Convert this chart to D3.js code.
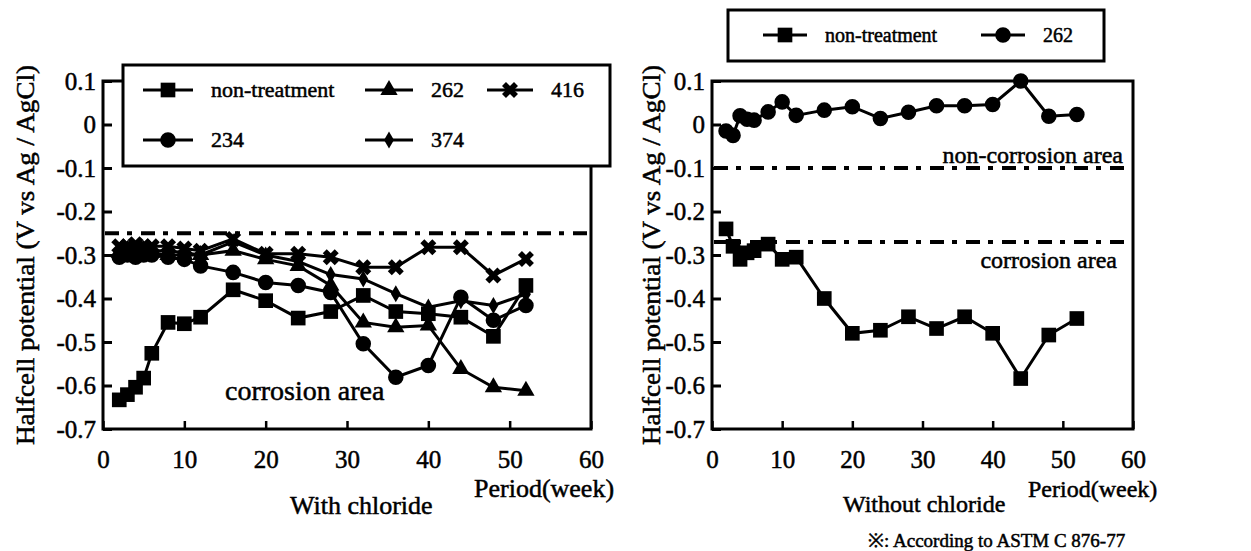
<!DOCTYPE html>
<html>
<head>
<meta charset="utf-8">
<script src="https://cdn.jsdelivr.net/npm/d3@7"></script>
<style>
  body { margin: 0; background: #fff; }
  svg text { font-family: "Liberation Serif", serif; stroke: #000; stroke-width: 0.5px; }
</style>
</head>
<body>
<svg width="1251" height="551"></svg>
<script>
// sampling weeks shared by all series
var weeks = [2, 3, 4, 5, 6, 8, 10, 12, 16, 20, 24, 28, 32, 36, 40, 44, 48, 52];

// with chloride
var withNon = [-0.633, -0.621, -0.604, -0.583, -0.526, -0.455, -0.458, -0.443, -0.38, -0.405, -0.445, -0.43, -0.393, -0.43, -0.435, -0.443, -0.487, -0.37];
var with234 = [-0.305, -0.30, -0.305, -0.30, -0.30, -0.305, -0.31, -0.325, -0.34, -0.363, -0.37, -0.386, -0.504, -0.581, -0.554, -0.397, -0.45, -0.416];
var with262 = [-0.295, -0.30, -0.295, -0.30, -0.295, -0.30, -0.30, -0.30, -0.29, -0.31, -0.325, -0.37, -0.455, -0.466, -0.462, -0.562, -0.604, -0.612];
var with374 = [-0.29, -0.285, -0.29, -0.285, -0.29, -0.29, -0.295, -0.30, -0.27, -0.30, -0.315, -0.345, -0.355, -0.389, -0.42, -0.405, -0.416, -0.39];
var with416 = [-0.28, -0.28, -0.275, -0.28, -0.28, -0.28, -0.285, -0.29, -0.263, -0.297, -0.297, -0.305, -0.328, -0.328, -0.282, -0.282, -0.347, -0.309];

// without chloride
var woNon = [-0.24, -0.28, -0.31, -0.295, -0.29, -0.275, -0.31, -0.305, -0.4, -0.48, -0.473, -0.442, -0.469, -0.442, -0.48, -0.584, -0.484, -0.446];
var wo262 = [-0.015, -0.025, 0.02, 0.012, 0.01, 0.029, 0.052, 0.021, 0.033, 0.041, 0.014, 0.028, 0.043, 0.043, 0.046, 0.1, 0.019, 0.023];

var xTicks = [0, 10, 20, 30, 40, 50, 60];
var yTicks = [0.1, 0, -0.1, -0.2, -0.3, -0.4, -0.5, -0.6, -0.7];
var limitWith = [-0.25];
var limitWithout = [-0.1, -0.27];

var FONT = '"Liberation Serif", serif';
var svg = d3.select('svg');

var shapes = {
  square: { type: d3.symbolSquare, size: 215, rot: 0 },
  circle: { type: d3.symbolCircle, size: 190, rot: 0 },
  triangle: { type: d3.symbolTriangle, size: 130, rot: 0 },
  diamond: { type: d3.symbolDiamond, size: 85, rot: 0 },
  cross: { type: d3.symbolCross, size: 160, rot: 45 }
};

function txt(parent, x, y, size, s) {
  return parent.append('text').attr('x', x).attr('y', y)
    .attr('font-size', size).attr('font-family', FONT).text(s);
}

function drawPanel(x0, x1, fs) {
  var x = d3.scaleLinear().domain([0, 60]).range([x0, x1]);
  var y = d3.scaleLinear().domain([-0.7, 0.1]).range([429, 81]);
  var g = svg.append('g');

  g.append('rect')
    .attr('x', x0).attr('y', y(0.1))
    .attr('width', x1 - x0).attr('height', y(-0.7) - y(0.1))
    .attr('fill', 'none').attr('stroke', '#000').attr('stroke-width', 3);

  var ax = g.append('g').attr('transform', 'translate(0,' + y(-0.7) + ')')
    .call(d3.axisBottom(x).tickValues(xTicks).tickSize(-8).tickSizeOuter(0).tickPadding(21).tickFormat(d3.format('d')));
  var ay = g.append('g').attr('transform', 'translate(' + x0 + ',0)')
    .call(d3.axisLeft(y).tickValues(yTicks).tickSize(-9).tickSizeOuter(0).tickPadding(7)
      .tickFormat(function(d) { return d === 0 ? '0' : d.toFixed(1); }));
  [ax, ay].forEach(function(a) {
    a.attr('font-family', FONT);
    a.select('.domain').remove();
    a.selectAll('line').attr('stroke', '#000').attr('stroke-width', 3);
    a.selectAll('text').attr('font-size', fs).attr('fill', '#000').attr('font-family', FONT);
  });
  ax.selectAll('line').attr('stroke-width', 2.5);

  return { g: g, x: x, y: y };
}

function drawLimit(p, vals) {
  p.g.selectAll(null).data(vals).enter().append('line')
    .attr('x1', p.x(0) + 2).attr('x2', p.x(60) - 2)
    .attr('y1', function(d) { return p.y(d); })
    .attr('y2', function(d) { return p.y(d); })
    .attr('stroke', '#000').attr('stroke-width', 4)
    .attr('stroke-dasharray', '14,8,5,9');
}

function drawSeries(p, vals, shape) {
  var pts = weeks.map(function(w, i) { return [w, vals[i]]; });
  var line = d3.line().x(function(d) { return p.x(d[0]); }).y(function(d) { return p.y(d[1]); });
  p.g.append('path').datum(pts).attr('d', line)
    .attr('fill', 'none').attr('stroke', '#000').attr('stroke-width', 3);
  var s = shapes[shape];
  p.g.selectAll(null).data(pts).enter().append('path')
    .attr('d', d3.symbol().type(s.type).size(s.size))
    .attr('transform', function(d) { return 'translate(' + p.x(d[0]) + ',' + p.y(d[1]) + ') rotate(' + s.rot + ')'; })
    .attr('fill', '#000');
}

function legendItem(cx, cy, shape, label, fs, half) {
  svg.append('line').attr('x1', cx - half).attr('x2', cx + half).attr('y1', cy).attr('y2', cy)
    .attr('stroke', '#000').attr('stroke-width', 3);
  var s = shapes[shape];
  svg.append('path').attr('d', d3.symbol().type(s.type).size(s.size))
    .attr('transform', 'translate(' + cx + ',' + cy + ') rotate(' + s.rot + ')');
  txt(svg, cx + half + 18, cy + 7, fs, label);
}

// ---- left: with chloride
var L = drawPanel(103, 591, 25);
drawLimit(L, limitWith);
drawSeries(L, with416, 'cross');
drawSeries(L, with374, 'diamond');
drawSeries(L, with262, 'triangle');
drawSeries(L, with234, 'circle');
drawSeries(L, withNon, 'square');

txt(L.g, 225, 400, 28, 'corrosion area');
txt(L.g, 290, 514, 26, 'With chloride');
txt(L.g, 474, 497, 26, 'Period(week)');
txt(svg, 0, 0, 25, 'Halfcell potential (V vs Ag / AgCl)')
  .attr('transform', 'translate(34,255) rotate(-90)').attr('text-anchor', 'middle')
  .attr('textLength', 380).attr('lengthAdjust', 'spacingAndGlyphs');

svg.append('rect').attr('x', 123).attr('y', 65).attr('width', 487).attr('height', 101)
  .attr('fill', '#fff').attr('stroke', '#000').attr('stroke-width', 3);
legendItem(168, 90, 'square', 'non-treatment', 22, 25);
legendItem(389, 90, 'triangle', '262', 22, 24);
legendItem(510, 90, 'cross', '416', 22, 23);
legendItem(168, 140, 'circle', '234', 22, 25);
legendItem(389, 140, 'diamond', '374', 22, 24);

// ---- right: without chloride
var R = drawPanel(712, 1133, 25);
drawLimit(R, limitWithout);
drawSeries(R, woNon, 'square');
drawSeries(R, wo262, 'circle');

txt(R.g, 1123, 163, 24, 'non-corrosion area').attr('text-anchor', 'end');
txt(R.g, 1117, 268, 24, 'corrosion area').attr('text-anchor', 'end');
txt(R.g, 843, 512, 24, 'Without chloride');
txt(R.g, 1028, 497, 24, 'Period(week)');
txt(R.g, 868, 547, 19, '※: According to ASTM C 876-77');
txt(svg, 0, 0, 25, 'Halfcell potential (V vs Ag / AgCl)')
  .attr('transform', 'translate(660,255) rotate(-90)').attr('text-anchor', 'middle')
  .attr('textLength', 380).attr('lengthAdjust', 'spacingAndGlyphs');

svg.append('rect').attr('x', 728).attr('y', 10).attr('width', 376).attr('height', 51)
  .attr('fill', '#fff').attr('stroke', '#000').attr('stroke-width', 3);
legendItem(785, 35, 'square', 'non-treatment', 20, 22);
legendItem(1003, 35, 'circle', '262', 20, 22);
</script>
</body>
</html>
